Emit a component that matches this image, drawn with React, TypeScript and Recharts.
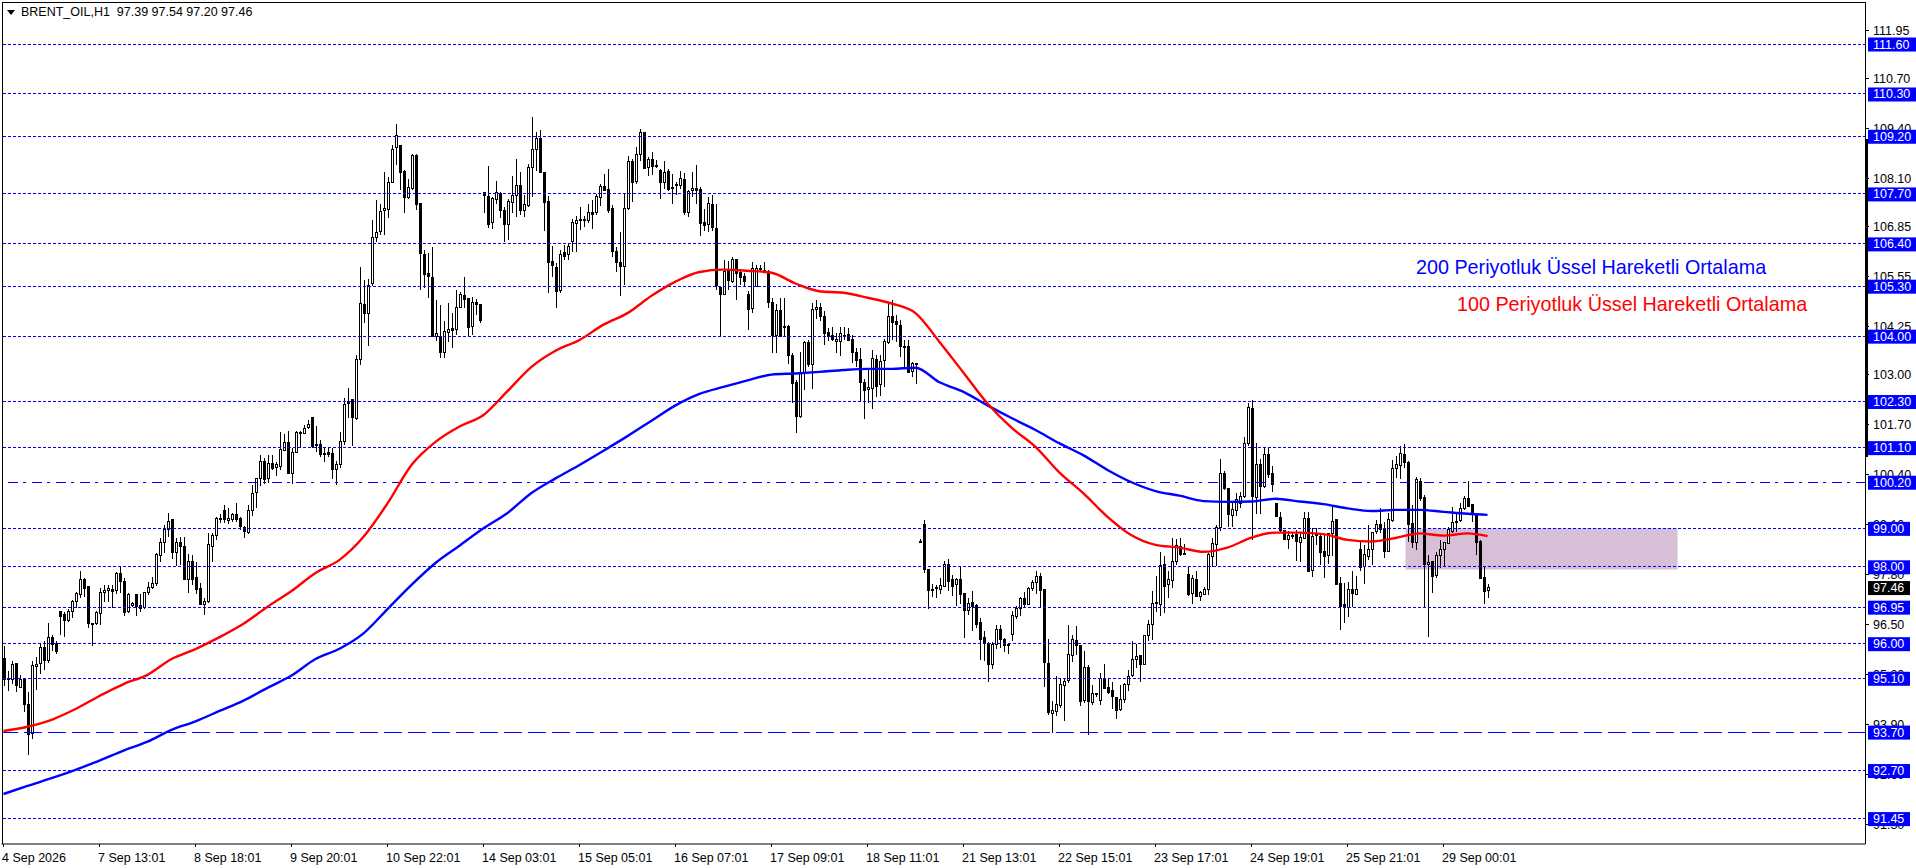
import { Bar, ComposedChart, Line, ReferenceArea, ReferenceLine, XAxis, YAxis } from "recharts";

type Candle = [number, number, number, number]; // open, high, low, close

const sep04: Candle[] = [
  [95.62,95.93,94.89,95.08],[95.08,95.3,94.78,95.1],[95.08,95.55,94.95,95.45],[95.48,95.51,94.75,94.9],[94.86,95.19,94.84,95.06],[95.06,95.08,94.21,94.42],
  [94.43,94.75,93.11,93.64],[93.67,95.54,93.53,95.42],[95.41,95.65,94.8,95.47],[95.49,96.01,95.2,95.91],[95.91,96.06,95.32,95.56],[95.56,96.53,95.49,96.17],
  [96.17,96.23,95.8,95.97],[96.01,96.08,95.72,95.8],[96.85,96.85,96.22,96.7],[96.75,96.83,96.18,96.61],[96.61,96.89,96.57,96.85],[96.83,97.14,96.68,97.11],
  [97.09,97.35,96.94,97.31],[97.27,97.89,97.18,97.66],[97.67,97.72,97.22,97.44],[97.5,97.5,96.42,96.53],[96.53,96.54,95.94,96.53],[96.53,96.86,96.48,96.81],
];
const sep07: Candle[] = [
  [96.79,97.44,96.48,97.33],[97.33,97.53,97.09,97.38],[97.38,97.53,97.09,97.44],[97.41,97.53,96.94,97.35],[97.38,97.87,97.29,97.83],[97.83,98.0,97.33,97.61],
  [97.63,97.72,96.72,96.81],[96.83,97.31,96.79,97.27],[96.99,97.09,96.96,97.05],[97.28,97.28,96.72,96.96],[97.0,97.28,96.83,96.92],[96.94,97.35,96.89,97.33],
  [97.33,97.61,97.27,97.46],[97.46,97.74,97.41,97.57],[97.57,98.35,97.5,98.31],[98.29,98.74,98.13,98.64],[98.64,99.09,98.35,98.96],[98.96,99.39,98.78,99.17],
  [99.22,99.22,98.2,98.37],[98.37,98.74,98.02,98.64],[98.64,98.78,98.05,98.54],[98.54,98.78,97.66,97.66],[97.68,98.33,97.31,98.13],[98.13,98.31,97.53,97.66],
];
const sep08: Candle[] = [
  [97.72,98.13,97.29,97.41],[97.44,97.57,97.0,97.03],[97.03,97.18,96.74,97.09],[97.09,98.87,97.05,98.57],[98.52,98.87,98.13,98.81],[98.81,99.3,98.7,99.26],
  [99.26,99.37,99.13,99.22],[99.46,99.61,99.13,99.23],[99.2,99.52,99.11,99.26],[99.23,99.41,99.17,99.36],[99.36,99.65,99.17,99.23],[99.26,99.29,98.96,99.04],
  [99.03,99.06,98.76,98.91],[98.89,99.61,98.85,99.46],[99.46,100.13,99.32,99.91],[99.93,100.3,99.52,100.3],[100.3,100.91,100.11,100.75],[100.75,100.82,100.15,100.28],
  [100.3,100.91,100.19,100.69],[100.69,100.91,100.52,100.56],[100.58,100.73,100.36,100.65],[100.6,101.5,100.52,101.04],[101.03,101.45,101.0,101.24],[101.24,101.53,100.43,100.43],
];
const sep09: Candle[] = [
  [100.43,101.08,100.15,100.98],[100.98,101.52,100.95,101.5],[101.49,101.52,101.08,101.49],[101.48,101.69,101.45,101.6],[101.62,101.82,101.58,101.7],[101.88,101.91,101.08,101.14],
  [101.17,101.66,100.99,101.15],[101.19,101.3,100.86,100.93],[100.95,101.08,100.73,100.95],[100.98,101.08,100.86,100.92],[100.95,101.08,100.28,100.53],[100.54,100.75,100.13,100.66],
  [100.66,101.5,100.56,101.25],[101.25,102.38,101.17,102.23],[102.3,102.64,101.86,102.26],[102.34,102.36,101.14,101.88],[101.86,103.51,101.82,103.4],[103.38,105.8,103.25,104.85],
  [104.83,105.47,104.34,104.59],[104.59,105.5,103.75,105.32],[105.37,107.03,105.3,106.56],[106.56,107.54,106.45,106.69],[106.71,107.43,106.63,107.25],[107.26,108.26,106.63,107.32],
];
const sep10: Candle[] = [
  [107.3,108.14,107.08,108.0],[108.0,108.97,107.99,108.86],[108.91,109.53,108.45,109.21],[108.97,108.97,107.8,108.26],[108.29,108.32,107.21,107.62],[107.62,108.08,107.56,107.87],
  [107.84,108.73,107.81,108.69],[108.71,108.75,107.28,107.42],[107.45,107.45,105.2,106.15],[106.13,106.25,105.24,105.61],[105.63,106.17,104.98,105.54],[105.53,106.31,103.98,103.98],
  [103.98,104.95,103.88,104.07],[104.0,104.81,103.42,103.57],[103.57,104.4,103.44,104.11],[104.1,104.85,103.85,104.17],[104.2,104.59,103.69,104.16],[104.17,105.21,104.03,104.75],
  [104.74,105.15,104.72,105.08],[105.07,105.53,104.72,104.96],[104.98,105.0,104.0,104.22],[104.24,105.02,104.03,104.87],[104.87,104.96,104.55,104.82],[104.83,104.83,104.35,104.4],
];
const sep14: Candle[] = [
  [107.73,107.75,107.21,107.66],[107.64,108.42,106.82,106.91],[106.95,107.62,106.78,107.58],[107.55,108.03,107.43,107.73],[107.71,107.75,107.08,107.28],[107.28,107.36,106.45,106.9],
  [106.9,107.58,106.5,107.51],[107.49,108.16,107.21,107.67],[107.66,108.6,107.1,107.92],[107.92,108.27,107.16,107.28],[107.28,107.67,107.1,107.42],[107.41,108.49,107.36,108.39],
  [108.39,109.69,107.62,108.86],[108.86,109.31,108.3,109.14],[109.14,109.36,108.25,108.25],[108.25,108.25,106.74,107.49],[107.5,107.64,105.13,105.91],[105.94,106.34,105.54,105.83],
  [105.79,105.91,104.74,105.15],[105.18,106.24,105.11,106.12],[106.17,106.37,105.98,106.08],[106.12,106.43,105.98,106.34],[106.45,107.04,106.19,106.96],[106.93,107.12,106.19,107.02],
];
const sep15: Candle[] = [
  [107.03,107.36,106.76,107.0],[107.03,107.12,106.84,107.0],[107.0,107.43,106.95,107.22],[107.22,107.55,106.8,107.17],[107.21,107.71,107.15,107.64],[107.62,107.97,107.38,107.9],
  [107.9,108.21,107.78,107.8],[107.82,108.36,107.21,107.28],[107.32,107.41,106.06,106.19],[106.21,106.32,105.67,105.91],[105.92,106.7,105.04,105.82],[105.8,107.73,105.33,107.32],
  [107.32,108.68,107.28,108.55],[108.55,108.62,107.49,108.01],[108.03,108.93,107.97,108.73],[108.72,109.38,108.56,109.3],[109.3,109.3,108.34,108.36],[108.39,108.65,108.16,108.6],
  [108.6,108.78,108.19,108.42],[108.43,108.58,108.38,108.43],[108.32,108.36,107.56,107.99],[107.99,108.55,107.84,108.26],[108.29,108.36,107.78,107.82],[107.83,108.21,107.43,107.88],
];
const sep16: Candle[] = [
  [107.95,108.02,107.67,107.91],[107.93,108.3,107.84,108.1],[108.08,108.25,107.15,107.21],[107.21,107.8,107.09,107.77],[107.78,108.26,107.62,107.84],[107.84,108.45,107.45,107.8],
  [107.82,107.87,106.61,106.93],[106.96,107.32,106.74,106.89],[106.9,107.61,106.71,107.45],[107.43,107.67,106.74,106.82],[106.8,107.45,105.2,105.33],[105.27,105.28,103.98,105.08],
  [105.08,105.98,105.07,105.67],[105.7,105.96,105.21,105.44],[105.41,106.05,105.37,106.0],[106.0,106.0,104.94,105.63],[105.65,105.76,105.33,105.53],[105.54,105.65,105.28,105.43],
  [105.09,105.17,104.15,104.7],[104.72,105.93,104.61,105.76],[105.28,105.85,105.28,105.76],[105.76,105.85,105.67,105.73],[105.72,105.92,105.65,105.69],[105.67,105.72,104.74,104.87],
];
const sep17: Candle[] = [
  [104.87,105.0,103.57,104.01],[104.01,104.83,103.57,104.68],[104.68,105.0,103.98,103.98],[104.26,104.98,103.98,104.22],[104.24,104.28,103.27,103.49],[103.5,103.55,102.25,102.77],
  [102.8,102.85,101.49,101.9],[101.9,103.58,101.88,103.03],[103.05,103.88,102.6,103.84],[103.83,103.9,103.2,103.25],[103.27,104.85,102.62,104.7],[104.7,104.95,104.45,104.75],
  [104.75,104.85,104.4,104.5],[104.5,104.65,103.77,104.07],[104.09,104.2,103.88,104.0],[104.01,104.25,103.88,103.92],[103.86,104.07,103.55,103.92],[103.87,104.23,103.48,104.06],
  [104.03,104.23,103.9,104.03],[104.05,104.2,103.9,103.9],[103.92,104.03,103.31,103.57],[103.57,103.68,103.21,103.36],[103.38,103.68,102.32,102.79],[102.8,102.88,101.84,102.58],
];
const sep18: Candle[] = [
  [102.6,103.12,102.25,102.66],[102.64,103.64,102.1,103.42],[103.4,103.51,102.43,102.7],[102.73,103.51,102.44,103.35],[103.36,103.92,102.69,103.87],[103.83,104.85,103.8,104.5],
  [104.5,104.95,103.9,104.35],[104.38,104.55,103.85,104.3],[104.29,104.42,103.47,103.73],[103.74,103.9,103.2,103.71],[103.74,103.9,103.06,103.06],[103.07,103.33,102.93,103.29],
  [103.29,103.31,102.75,103.25],[98.65,98.72,98.63,98.63],[99.09,99.22,97.85,97.92],[97.92,97.92,96.9,97.38],[97.42,97.55,97.21,97.41],[97.45,97.53,97.18,97.46],
  [97.4,97.7,97.29,97.51],[97.5,98.15,97.5,98.05],[98.05,98.2,97.36,97.62],[97.66,97.79,97.24,97.5],[97.55,97.7,96.98,97.68],[97.66,97.99,97.03,97.27],
];
const sep21: Candle[] = [
  [97.3,97.31,96.16,96.86],[96.86,97.18,96.75,97.05],[97.08,97.37,96.33,96.98],[96.99,97.03,96.4,96.51],[96.56,96.66,95.58,96.12],[96.17,96.34,95.56,96.03],
  [96.01,96.05,95.01,95.47],[95.47,96.05,95.34,95.97],[95.97,96.49,95.86,96.38],[96.36,96.49,95.9,96.12],[96.1,96.15,95.79,95.95],[95.97,95.99,95.73,95.96],
  [96.23,96.85,96.08,96.73],[96.72,96.98,96.64,96.92],[96.92,97.21,96.72,97.18],[97.18,97.34,96.95,97.03],[97.01,97.47,97.01,97.44],[97.43,97.66,97.38,97.6],
  [97.59,97.89,97.28,97.76],[97.76,97.83,96.95,97.38],[97.4,97.4,94.88,95.51],[95.49,96.12,94.15,94.21],[94.19,94.51,93.67,94.25],[94.23,95.16,94.12,94.41],
];
const sep22: Candle[] = [
  [94.39,95.1,94.32,94.93],[94.92,95.1,94.0,95.02],[95.04,96.49,94.97,95.72],[95.69,96.23,95.53,96.11],[96.09,96.46,95.71,95.95],[95.94,95.97,94.38,94.49],
  [94.51,95.81,94.47,95.39],[95.39,95.45,93.63,94.49],[94.47,94.93,94.41,94.71],[94.71,94.71,94.61,94.67],[94.52,95.23,94.41,95.1],[95.08,95.47,94.81,94.84],
  [94.87,95.1,94.69,94.74],[94.78,95.01,94.3,94.62],[94.6,94.62,94.04,94.26],[94.28,94.93,94.26,94.55],[94.55,94.99,94.45,94.95],[94.95,95.32,94.78,95.14],
  [95.16,96.07,95.14,95.59],[95.59,95.98,95.36,95.66],[95.68,95.71,95.01,95.46],[95.47,96.21,95.45,96.21],[96.2,96.62,96.08,96.5],[96.49,97.37,96.1,97.05],
];
const sep23: Candle[] = [
  [97.07,97.76,96.83,97.07],[97.03,98.38,96.72,98.03],[98.05,98.29,96.8,97.5],[97.53,97.9,97.2,97.66],[97.64,98.74,97.46,98.14],[98.14,98.72,98.05,98.55],
  [98.54,98.74,98.27,98.33],[98.35,98.59,98.31,98.32],[97.81,97.99,97.24,97.29],[97.31,97.79,97.03,97.7],[97.68,97.88,97.21,97.23],[97.23,97.36,97.12,97.32],
  [97.29,97.48,97.27,97.42],[97.4,98.35,97.27,98.31],[98.26,98.74,98.0,98.61],[98.58,99.09,98.02,99.03],[99.03,100.8,98.94,100.43],[100.43,100.48,100.0,100.03],
  [100.04,100.04,99.03,99.37],[99.33,99.7,99.03,99.5],[99.46,99.91,99.32,99.74],[99.65,99.95,99.52,99.82],[99.82,101.37,99.78,101.21],[101.21,102.27,101.14,102.15],
];
const sep24: Candle[] = [
  [102.12,102.34,98.71,99.82],[99.81,101.21,99.37,100.67],[100.65,100.8,99.37,100.1],[100.1,101.08,100.04,100.91],[100.91,101.11,100.3,100.41],[100.43,100.62,99.95,100.15],
  [99.65,99.67,99.29,99.3],[99.29,99.43,98.91,98.94],[98.94,98.96,98.7,98.72],[98.71,98.94,98.46,98.82],[98.81,98.87,98.72,98.81],[98.83,98.96,98.16,98.65],
  [98.63,98.87,98.13,98.77],[98.74,99.43,98.72,99.26],[99.26,99.43,97.87,97.89],[97.9,99.0,97.74,98.8],[98.84,99.0,98.57,98.82],[98.8,98.83,98.05,98.38],
  [98.4,98.85,97.7,98.28],[98.29,98.87,98.07,98.87],[98.87,99.61,98.29,99.19],[99.22,99.22,97.53,97.55],[97.57,97.74,96.36,96.98],[97.03,97.57,96.55,96.95],
];
const sep25: Candle[] = [
  [96.95,97.61,96.69,97.42],[97.42,97.89,96.96,97.31],[97.29,97.76,97.29,97.42],[98.46,98.65,97.9,97.99],[98.0,98.57,97.55,98.31],[98.26,99.09,98.18,98.45],
  [98.45,98.91,98.05,98.9],[98.91,99.22,98.85,99.1],[99.1,99.52,98.87,98.98],[99.0,99.17,98.22,98.39],[98.39,99.41,98.38,99.22],[99.2,100.78,99.17,100.56],
  [100.56,100.88,100.3,100.65],[100.63,101.13,100.28,100.95],[100.93,101.19,100.56,100.71],[100.72,100.74,98.65,99.11],[99.13,99.61,98.48,98.63],[98.63,100.33,98.45,100.26],
  [100.23,100.3,99.72,99.78],[99.8,99.87,96.92,98.05],[98.05,98.31,96.17,98.11],[98.13,98.13,97.31,97.74],[97.77,98.39,97.7,98.29],[98.29,98.7,97.96,98.45],
];
const sep29: Candle[] = [
  [98.46,98.65,98.0,98.64],[98.61,99.04,98.6,98.96],[98.91,99.55,98.87,99.16],[99.19,99.39,98.91,99.15],[99.2,99.65,99.17,99.52],[99.52,99.84,99.48,99.78],
  [99.78,100.23,99.55,99.56],[99.61,99.61,99.17,99.42],[99.37,99.39,98.31,98.63],[98.65,98.7,97.67,97.7],[97.73,98.0,97.03,97.37],[97.39,97.54,97.2,97.46],
];

// sampled every 6th candle, the last value is the final candle
const ema100 = [
  93.73,93.84,94.02,94.3,94.64,94.95,95.19,95.6,95.86,96.17,
  96.52,96.96,97.37,97.84,98.18,98.78,99.65,100.65,101.25,101.65,
  101.95,102.57,103.2,103.62,103.9,104.3,104.6,105.05,105.42,105.67,
  105.73,105.7,105.65,105.37,105.17,105.13,105.0,104.85,104.6,103.85,
  103.05,102.25,101.62,101.12,100.45,99.91,99.3,98.82,98.57,98.5,
  98.39,98.5,98.76,98.89,98.89,98.85,98.7,98.66,98.75,98.87,
  98.81,98.87,98.8,
];
const ema200 = [
  92.09,92.3,92.5,92.72,92.96,93.22,93.45,93.76,93.98,94.25,
  94.52,94.85,95.17,95.6,95.87,96.27,96.9,97.53,98.1,98.55,
  99.0,99.4,99.92,100.3,100.65,101.02,101.4,101.8,102.2,102.5,
  102.68,102.85,103.0,103.03,103.07,103.12,103.15,103.15,103.18,102.8,
  102.55,102.2,101.87,101.56,101.21,100.9,100.52,100.2,99.97,99.85,
  99.71,99.69,99.7,99.77,99.7,99.63,99.52,99.45,99.48,99.48,
  99.43,99.38,99.35,
];

const dottedLevels = [111.6, 110.3, 109.2, 107.7, 106.4, 105.3, 104.0, 102.3, 101.1, 99.0, 98.0, 96.95, 96.0, 95.1, 92.7, 91.45];
const dashDotLevel = 100.2;
const dashedLevel = 93.7;
const lastPrice = 97.46;
const zoneLow = 97.93;
const zoneHigh = 99.0;
const zoneFrom = 351;
const zoneTo = 418;

const priceTicks = [111.95, 110.7, 109.4, 108.1, 106.85, 105.55, 104.25, 103.0, 101.7, 100.4, 99.1, 97.8, 96.5, 95.2, 93.9, 92.6, 91.3];
const timeLabels = [
  "4 Sep 2026", "7 Sep 13:01", "8 Sep 18:01", "9 Sep 20:01", "10 Sep 22:01", "14 Sep 03:01", "15 Sep 05:01", "16 Sep 07:01",
  "17 Sep 09:01", "18 Sep 11:01", "21 Sep 13:01", "22 Sep 15:01", "23 Sep 17:01", "24 Sep 19:01", "25 Sep 21:01", "29 Sep 00:01",
];
const header = "BRENT_OIL,H1  97.39 97.54 97.20 97.46";
const slotCount = 466; // room on the right of the last candle
const font = "'Liberation Sans', Arial, sans-serif";
const priceDomain = [90.789, 112.667];

const candles = [...sep04, ...sep07, ...sep08, ...sep09, ...sep10, ...sep14, ...sep15, ...sep16, ...sep17, ...sep18, ...sep21, ...sep22, ...sep23, ...sep24, ...sep25, ...sep29];
const lastIdx = candles.length - 1;

const rows = Array.from({ length: slotCount }, (_, i) => {
  const c = candles[i];
  const sampled = i % 6 === 0 ? i / 6 : i === lastIdx ? ema100.length - 1 : -1;
  return {
    i,
    candle: c ?? null,
    range: c ? [c[2], c[1]] : null,
    ema100: sampled >= 0 && i <= lastIdx ? ema100[sampled] : null,
    ema200: sampled >= 0 && i <= lastIdx ? ema200[sampled] : null,
  };
});
const timeTicks = timeLabels.map((_, n) => n * 24);
const tagTicks = [...dottedLevels, dashDotLevel, dashedLevel, lastPrice];

function CandleShape(props: any) {
  const c: Candle | null = props.payload?.candle;
  if (!c) return null;
  const [o, h, l, cl] = c;
  const { x, y, width, height } = props;
  const perUnit = h > l ? height / (h - l) : 0;
  const cx = x + width / 2;
  const top = y + (h - Math.max(o, cl)) * perUnit;
  const bodyH = Math.abs(o - cl) * perUnit;
  const up = cl >= o;
  return (
    <g shapeRendering="crispEdges">
      <line x1={cx} x2={cx} y1={y} y2={y + height} stroke="#000" />
      <rect x={cx - 1} y={top} width={2} height={Math.max(bodyH, 1)} fill={up ? "#fff" : "#000"} stroke="#000" />
    </g>
  );
}

// plain ticks come first in the list, so the tags are painted over them
function PriceTick({ y, payload }: any) {
  const value = payload.value;
  if (tagTicks.includes(value)) {
    return (
      <g>
        <rect x={1868} y={y - 6.5} width={value >= 100 ? 48 : 42} height={14} fill={value === lastPrice ? "#000" : "#0000ff"} />
        <text x={1873} y={y + 4.5} fontSize={12.5} fontFamily={font} fill="#fff">
          {value.toFixed(2)}
        </text>
      </g>
    );
  }
  return (
    <g>
      <line x1={1866} x2={1869} y1={y} y2={y} stroke="#000" shapeRendering="crispEdges" />
      <text x={1873} y={y + 4.5} fontSize={12.5} fontFamily={font} fill="#000">
        {value.toFixed(2)}
      </text>
    </g>
  );
}

function TimeTick({ x, y, payload }: any) {
  return (
    <text x={x - 1.5} y={y + 13} fontSize={12.5} fontFamily={font} fill="#000">
      {timeLabels[payload.value / 24]}
    </text>
  );
}

export default function App() {
  const level = (price: number, dash: string) => (
    <ReferenceLine key={price} y={price} stroke="#0000ff" strokeWidth={1} strokeDasharray={dash} shapeRendering="crispEdges" />
  );
  return (
    <div style={{ position: "absolute", left: 0, top: 0, width: 1916, height: 868, background: "#fff", overflow: "hidden" }}>
      <ComposedChart width={1916} height={868} data={rows} margin={{ top: 3, left: 1.5, right: 0, bottom: 0 }} barSize={3}>
        <XAxis dataKey="i" type="category" ticks={timeTicks} interval={0} height={24} tick={<TimeTick />} tickSize={3} stroke="#000" />
        <YAxis
          orientation="right"
          width={50.5}
          domain={priceDomain}
          ticks={[...priceTicks, ...tagTicks]}
          interval={0}
          allowDataOverflow
          tick={<PriceTick />}
          tickLine={false}
          stroke="#000"
        />
        <ReferenceArea x1={zoneFrom} x2={zoneTo} y1={zoneLow} y2={zoneHigh} fill="#d8bfd8" fillOpacity={1} stroke="none" />
        {dottedLevels.map((p) => level(p, "3 2"))}
        {level(dashDotLevel, "10 6 3 5")}
        {level(dashedLevel, "18 6")}
        <Bar dataKey="range" shape={<CandleShape />} isAnimationActive={false} />
        <Line dataKey="ema200" stroke="#0000ff" strokeWidth={2.4} dot={false} connectNulls type="monotone" isAnimationActive={false} />
        <Line dataKey="ema100" stroke="#ff0000" strokeWidth={2.4} dot={false} connectNulls type="monotone" isAnimationActive={false} />
      </ComposedChart>

      <div style={{ position: "absolute", left: 2, top: 2, width: 1864, height: 1, background: "#000" }} />
      <div style={{ position: "absolute", left: 2, top: 2, width: 1, height: 842, background: "#000" }} />
      <div style={{ position: "absolute", left: 1865, top: 139, width: 3, height: 318, background: "#000" }} />

      <div style={{ position: "absolute", left: 7, top: 10, width: 0, height: 0, borderLeft: "4.5px solid transparent", borderRight: "4.5px solid transparent", borderTop: "5px solid #000" }} />
      <div style={{ position: "absolute", left: 21, top: 5, fontFamily: font, fontSize: 12.5, color: "#000", whiteSpace: "pre" }}>{header}</div>
      <div style={{ position: "absolute", left: 1416, top: 256, fontFamily: font, fontSize: 19.75, color: "#0000ff", whiteSpace: "pre" }}>200 Periyotluk Üssel Hareketli Ortalama</div>
      <div style={{ position: "absolute", left: 1457, top: 293, fontFamily: font, fontSize: 19.75, color: "#ff0000", whiteSpace: "pre" }}>100 Periyotluk Üssel Hareketli Ortalama</div>
    </div>
  );
}
